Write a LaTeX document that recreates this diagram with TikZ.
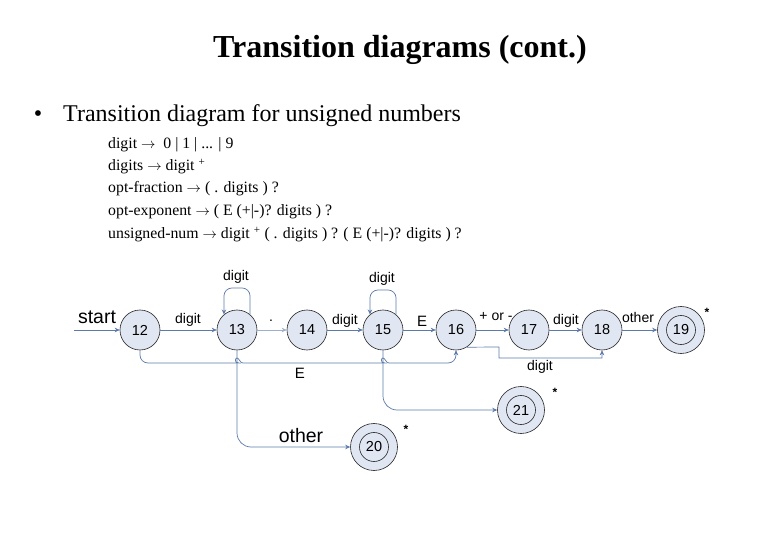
\documentclass[tikz,border=0pt]{standalone}
\usepackage{fontspec}
\setmainfont{Liberation Serif}
\newfontfamily\arial{Liberation Sans}
\usetikzlibrary{arrows.meta}
\definecolor{edgec}{RGB}{92,122,170}
\definecolor{nodef}{RGB}{224,230,242}
\begin{document}
\begin{tikzpicture}[x=1pt,y=-1pt,
  state/.style={circle,draw=black!85,fill=nodef,line width=0.6pt,minimum size=40pt,inner sep=0pt,font=\arial\fontsize{14.5}{16}\selectfont},
  accept/.style={state,minimum size=47pt},
  edge/.style={draw=edgec,line width=0.7pt,-{Stealth[length=5pt,width=4.5pt]}},
  lab/.style={font=\arial\fontsize{14}{16}\selectfont,inner sep=1pt},
  biglab/.style={font=\arial\fontsize{19.5}{22}\selectfont,inner sep=1pt},
  star/.style={font=\arial\bfseries\fontsize{12}{14}\selectfont,inner sep=0pt},
  deftext/.style={anchor=base west,inner sep=0pt,font=\fontsize{15.8}{18}\selectfont}]
\useasboundingbox (0,0) rectangle (780,540);
% texts
\node[font=\bfseries\fontsize{32}{36}\selectfont] (title) at (400,50) {Transition diagrams (cont.)};
\node[font=\fontsize{24}{28}\selectfont,inner sep=0pt] (bul) at (38,116) {•};
\node[anchor=west,font=\fontsize{24}{28}\selectfont,inner sep=0pt] (btext) at (63,116) {Transition diagram for unsigned numbers};
\node[deftext] (d1) at (108,149) {digit $\rightarrow$ \ 0 | 1 | ... | 9};
\node[deftext] (d2) at (108,171) {digits $\rightarrow$ digit \textsuperscript{+}};
\node[deftext] (d3) at (108,193) {opt-fraction $\rightarrow$ ( . digits ) ?};
\node[deftext] (d4) at (108,216) {opt-exponent $\rightarrow$ ( E (+|-)? digits ) ?};
\node[deftext] (d5) at (108,239) {unsigned-num $\rightarrow$ digit \textsuperscript{+} ( . digits ) ? ( E (+|-)? digits ) ?};
% states
\node[state] (n12) at (140,330) {12};
\node[state] (n13) at (237,330) {13};
\node[state] (n14) at (307,330) {14};
\node[state] (n15) at (383,330) {15};
\node[state] (n16) at (456,330) {16};
\node[state] (n17) at (529,330) {17};
\node[state] (n18) at (602,330) {18};
\node[accept] (n19) at (681,330) {19};
\draw[black!85,line width=0.6pt] (n19.center) circle (14.5pt);
\node[accept] (n20) at (374,447) {20};
\draw[black!85,line width=0.6pt] (n20.center) circle (14.5pt);
\node[accept] (n21) at (521,410) {21};
\draw[black!85,line width=0.6pt] (n21.center) circle (14.5pt);
\node[star] (s19) at (707,312) {*};
\node[star] (s21) at (555,392) {*};
\node[star] (s20) at (406,429) {*};
% start
\coordinate (st) at (74,330);
\draw[edge] (st) -- (n12.west);
\node[biglab] (lstart) at (97,317) {start};
% main chain
\draw[edge] (n12) -- (n13);
\node[lab] (l1213) at (188,320) {digit};
\draw[edge,draw=edgec!60] (n13) -- (n14);
\node[lab] (l1314) at (271,321) {.};
\draw[edge] (n14) -- (n15);
\node[lab] (l1415) at (345,321) {digit};
\draw[edge] (n15) -- (n16);
\node[lab,font=\arial\fontsize{15}{17}\selectfont] (l1516) at (422,321) {E};
\draw[edge] (n16) -- (n17);
\node[lab] (l1617) at (496,317) {+ or -};
\draw[edge] (n17) -- (n18);
\node[lab] (l1718) at (566,321) {digit};
\draw[edge] (n18) -- (n19);
\node[lab] (l1819) at (638,317) {other};
% self loops
\coordinate (t13) at (237,288);
\draw[edge,rounded corners=8pt] (n13.50) -- (n13.50 |- t13) -- (n13.130 |- t13) -- (n13.130);
\node[lab] (l13) at (236,277) {digit};
\coordinate (t15) at (383,290);
\draw[edge,rounded corners=8pt] (n15.50) -- (n15.50 |- t15) -- (n15.130 |- t15) -- (n15.130);
\node[lab] (l15) at (382,279) {digit};
% 16 -> 18 digit
\draw[edge] (n16.-58) -- (499,347) -- (499,358) -| (n18.south);
\node[lab] (l1618) at (540,367) {digit};
% 12 -> 16 E
\draw[edge,rounded corners=8pt] (n12.south) |- (231,363)
  [sharp corners] .. controls (234,363) and (235,358) .. (237,358) .. controls (239,358) and (240,363) .. (243,363)
  [rounded corners=8pt] -- (377,363)
  [sharp corners] .. controls (380,363) and (381,358) .. (383,358) .. controls (385,358) and (386,363) .. (389,363)
  [rounded corners=8pt] -| (n16.south);
\node[lab,font=\arial\fontsize{15}{17}\selectfont] (l1216) at (300,373) {E};
% 13 -> 20 other
\draw[edge,rounded corners=14pt] (n13.south) |- (n20.west);
\node[biglab] (l1320) at (301,436) {other};
% 15 -> 21
\draw[edge,rounded corners=14pt] (n15.south) |- (n21.west);
\end{tikzpicture}
\end{document}
